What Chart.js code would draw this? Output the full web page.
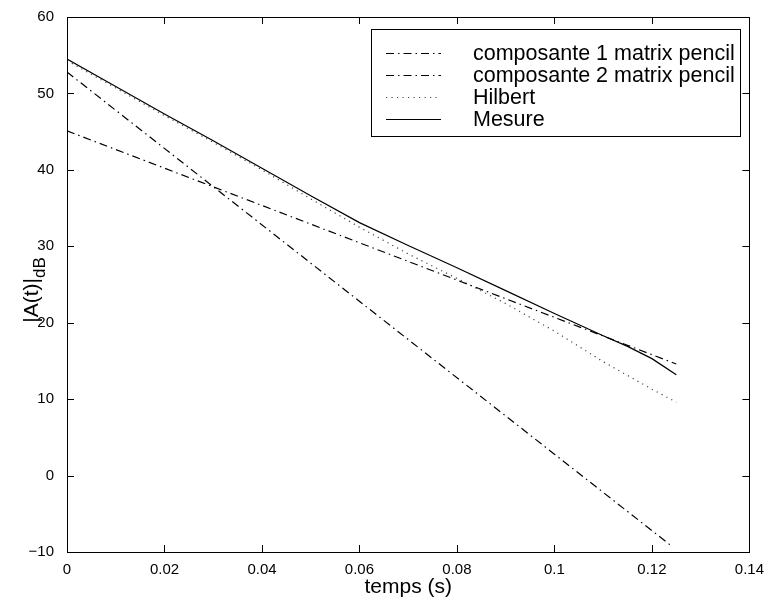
<!DOCTYPE html>
<html>
<head>
<meta charset="utf-8">
<script src="https://cdn.jsdelivr.net/npm/chart.js@4/dist/chart.umd.min.js"></script>
<style>
html,body{margin:0;padding:0;background:#fff;}
#wrap{width:765px;height:600px;}
</style>
</head>
<body>
<div id="wrap"><canvas id="canvas" width="765" height="600"></canvas></div>
<script>
// values
var tMesure=[0,0.01,0.02,0.03,0.04,0.05,0.06,0.07,0.08,0.09,0.1,0.11,0.115,0.12,0.125];
var yMesure=[54.5,50.9,47.3,43.8,40.2,36.6,33.1,30.1,27.2,24.2,21.2,18.3,16.9,15.3,13.2];
var tHilbert=[0,0.01,0.02,0.03,0.04,0.05,0.06,0.07,0.08,0.09,0.1,0.11,0.12,0.125];
var yHilbert=[54.3,50.7,47.1,43.6,40.0,36.2,32.5,29.0,25.8,22.5,18.9,14.9,11.3,9.6];
var tComp1=[0,0.025,0.05,0.075,0.1,0.124];
var yComp1=[52.8,40.3,27.8,15.3,2.8,-9.2];
var tComp2=[0,0.025,0.05,0.075,0.1,0.125];
var yComp2=[45.1,39.0,32.9,26.8,20.7,14.6];
var labels=['composante 1 matrix pencil','composante 2 matrix pencil','Hilbert','Mesure'];
var xTicks=[0,0.02,0.04,0.06,0.08,0.1,0.12,0.14];
var yTicks=[-10,0,10,20,30,40,50,60];

var FONT='"Liberation Sans", Arial, Helvetica, sans-serif';

function pts(t,y){
	var out=[];
	for (var i=0;i<t.length;i++){
		out.push({x:t[i],y:y[i]});
	}
	return out;
}

// box, inward ticks, y title with subscript and legend
var matlabLook={
	id:'matlabLook',
	afterDraw:function(chart){
		var ctx=chart.ctx;
		var a=chart.chartArea;
		var xs=chart.scales.x, ys=chart.scales.y;
		ctx.save();
		ctx.strokeStyle='#000';
		ctx.lineWidth=1;
		ctx.setLineDash([]);
		ctx.strokeRect(Math.round(a.left)+0.5,Math.round(a.top)+0.5,Math.round(a.right-a.left),Math.round(a.bottom-a.top));
		var tl=7;
		ctx.beginPath();
		for (var i=0;i<xTicks.length;i++){
			var px=Math.round(xs.getPixelForValue(xTicks[i]))+0.5;
			ctx.moveTo(px,a.bottom);ctx.lineTo(px,a.bottom-tl);
			ctx.moveTo(px,a.top);ctx.lineTo(px,a.top+tl);
		}
		for (var j=0;j<yTicks.length;j++){
			var py=Math.round(ys.getPixelForValue(yTicks[j]))+0.5;
			ctx.moveTo(a.left,py);ctx.lineTo(a.left+tl,py);
			ctx.moveTo(a.right,py);ctx.lineTo(a.right-tl,py);
		}
		ctx.stroke();

		// y axis title |A(t)| with subscript dB
		ctx.save();
		ctx.translate(31,290);
		ctx.rotate(-Math.PI/2);
		ctx.fillStyle='#000';
		ctx.textBaseline='alphabetic';
		var main='|A(t)|';
		ctx.font='17px '+FONT;
		var wSub=ctx.measureText('dB').width;
		ctx.font='21px '+FONT;
		var wMain=ctx.measureText(main).width;
		var x0=-(wMain+wSub)/2;
		ctx.fillText(main,x0,7);
		ctx.font='17px '+FONT;
		ctx.fillText('dB',x0+wMain,14);
		ctx.restore();

		// legend
		var lx=371, ly=29, lw=369, lh=107;
		ctx.fillStyle='#fff';
		ctx.fillRect(lx,ly,lw,lh);
		ctx.strokeStyle='#000';
		ctx.lineWidth=1;
		ctx.strokeRect(lx+0.5,ly+0.5,lw,lh);
		ctx.font='21.5px '+FONT;
		ctx.textBaseline='middle';
		var ds=chart.data.datasets;
		for (var k=0;k<ds.length;k++){
			var rowY=Math.round(ly+24+k*22)+0.5;
			ctx.strokeStyle=ds[k].borderColor;
			ctx.lineWidth=1;
			ctx.setLineDash(ds[k].borderDash||[]);
			ctx.beginPath();
			ctx.moveTo(386,rowY);ctx.lineTo(441,rowY);
			ctx.stroke();
			ctx.setLineDash([]);
			ctx.fillStyle='#000';
			ctx.fillText(ds[k].label,473,rowY+1);
		}
		ctx.restore();
	}
};

var config={
	type:'scatter',
	data:{
		datasets:[
			{label:labels[0],data:pts(tComp1,yComp1),borderColor:'#000',borderDash:[8,4,1.5,4]},
			{label:labels[1],data:pts(tComp2,yComp2),borderColor:'#000',borderDash:[8,4,1.5,4]},
			{label:labels[2],data:pts(tHilbert,yHilbert),borderColor:'#444',borderDash:[1.2,4.3]},
			{label:labels[3],data:pts(tMesure,yMesure),borderColor:'#000'}
		]
	},
	options:{
		responsive:false,
		animation:false,
		showLine:true,
		layout:{padding:{top:17,right:11,left:0,bottom:0}},
		elements:{
			point:{radius:0,hoverRadius:0},
			line:{borderWidth:1.2,tension:0,fill:false}
		},
		plugins:{legend:{display:false},tooltip:{enabled:false}},
		scales:{
			x:{
				type:'linear',min:0,max:0.14,
				afterBuildTicks:function(s){s.ticks=xTicks.map(function(v){return {value:v};});},
				afterFit:function(s){s.height=48;},
				grid:{display:false},
				border:{display:false},
				ticks:{color:'#000',padding:1,font:{family:FONT,size:15},maxRotation:0,
					callback:function(v){return String(+Number(v).toFixed(4));}},
				title:{display:true,text:'temps (s)',color:'#000',font:{family:FONT,size:21},padding:{top:0,bottom:0}}
			},
			y:{
				type:'linear',min:-10,max:60,
				afterBuildTicks:function(s){s.ticks=yTicks.map(function(v){return {value:v};});},
				afterFit:function(s){s.width=67;},
				grid:{display:false},
				border:{display:false},
				ticks:{color:'#000',padding:5,font:{family:FONT,size:15},
					callback:function(v){return String(v).replace('-','\u2212');}}
			}
		}
	},
	plugins:[matlabLook]
};

var ctx=document.getElementById('canvas').getContext('2d');
window.myLine=new Chart(ctx,config);
</script>
</body>
</html>
